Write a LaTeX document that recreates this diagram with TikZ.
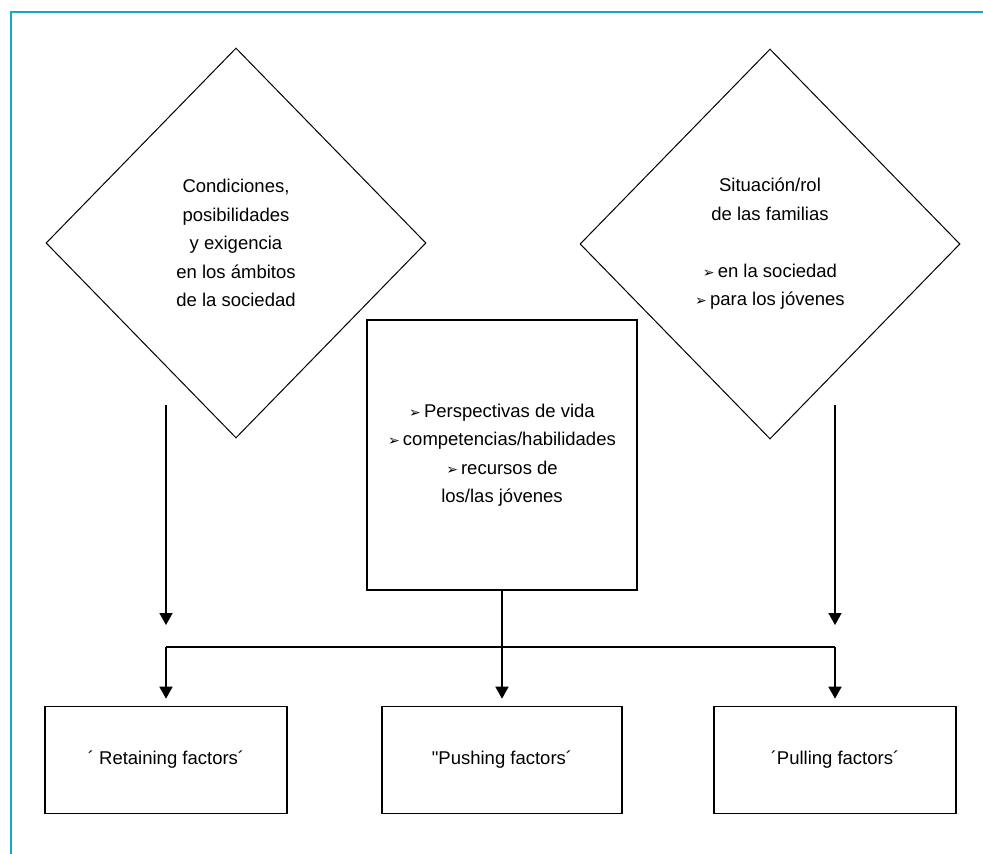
\documentclass[tikz,border=0pt]{standalone}
\usepackage{fontspec}
\setmainfont{Liberation Sans}
\newfontfamily\dingfont{DejaVu Sans}
\newfontfamily\rectas{Liberation Sans}[Ligatures=TeXOff]
\usetikzlibrary{shapes.geometric,arrows.meta,positioning}
\definecolor{marco}{RGB}{22,165,205}
\newcommand{\vineta}{{\dingfont\fontsize{14}{14}\selectfont ➢}\,}
\begin{document}
\begin{tikzpicture}[x=1pt,y=-1pt,
  every node/.style={font=\fontsize{18.5}{28.5}\selectfont, align=center},
  rombo/.style={diamond, draw, line width=1pt, minimum width=380pt, minimum height=390pt, inner sep=0pt},
  caja/.style={draw, line width=1.6pt, minimum width=242pt, minimum height=107pt},
  linea/.style={line width=1.6pt},
  flecha/.style={line width=1.6pt, -{Triangle[length=12pt,width=13pt]}}]

\useasboundingbox (0,0) rectangle (983,854);
\draw[marco, line width=2pt] (11,854) -- (11,12) -- (983,12);

% rombos de arriba
\node[rombo] (cond) at (236,243) {Condiciones,\\posibilidades\\y exigencia\\en los ámbitos\\de la sociedad};
\node[rombo] (fam) at (770,244) {Situación/rol\\de las familias\\[28.5pt]\vineta en la sociedad\\\vineta para los jóvenes};

% caja central
\node[draw, linea, minimum width=270pt, minimum height=270pt] (persp) at (502,455)
  {\vineta Perspectivas de vida\\\vineta competencias/habilidades\\\vineta recursos de\\los/las jóvenes};

% factores
\node[caja] (ret) at (166,760) {´ Retaining factors´};
\node[caja, minimum width=240pt] (push) at (502,760) {{\rectas"}Pushing factors´};
\node[caja] (pull) at (835,760) {´Pulling factors´};

% flechas laterales
\coordinate (izqA) at (166,405);
\coordinate (izqB) at (166,625);
\coordinate (derA) at (835,405);
\coordinate (derB) at (835,625);
\draw[flecha] (izqA) -- (izqB);
\draw[flecha] (derA) -- (derB);

\coordinate (cruce) at (persp.south |- 0,647);
\draw[linea] (ret.north |- cruce) -- (pull.north |- cruce);
\draw[linea] (persp.south) -- (cruce);
\foreach \n in {ret,push,pull}
  \draw[flecha, shorten >=7pt] (\n.north |- cruce) -- (\n.north);

\end{tikzpicture}
\end{document}
